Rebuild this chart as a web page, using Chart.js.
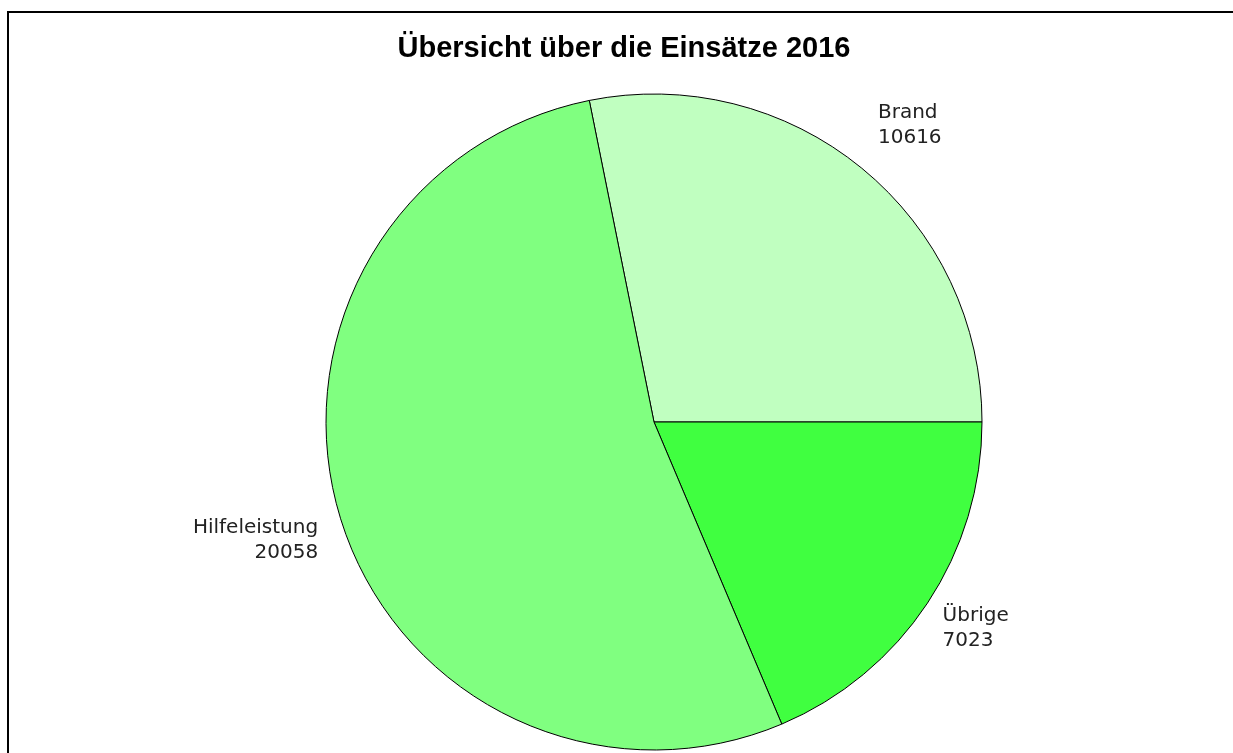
<!DOCTYPE html>
<html>
<head>
<meta charset="utf-8">
<script src="https://cdn.jsdelivr.net/npm/chart.js@4.4.1/dist/chart.umd.min.js"></script>
<style>
    html, body { margin: 0; padding: 0; background: #fff; }
    #wrap { position: relative; width: 1233px; height: 753px; overflow: hidden; }
    #frame { position: absolute; left: 7px; top: 11px; right: -10px; bottom: -10px;
             border-left: 2px solid #000; border-top: 2px solid #000; }
    #einsatzChart { position: absolute; left: 0; top: 0; }
</style>
</head>
<body>
<div id="wrap">
    <div id="frame"></div>
    <canvas id="einsatzChart" width="1233" height="753"></canvas>
</div>
<script>
const chartTitle = 'Übersicht über die Einsätze 2016';
const categories = ['Brand', 'Übrige', 'Hilfeleistung'];
const einsaetze = [10616, 7023, 20058];
const sliceColors = ['#C0FFC0', '#40FF40', '#80FF80'];
// nudges for the outside labels, relative to the point on the mid angle
const labelNudge = [[-6, -23], [-14, -2], [11, 4]];

document.addEventListener('DOMContentLoaded', function() {
    initPieChart();
});

function initPieChart() {
    const ctx = document.getElementById('einsatzChart');
    if (!ctx) return;

    const total = einsaetze.reduce((a, b) => a + b, 0);
    // Brand ends exactly at 3 o'clock
    const startRotation = 90 - 360 * einsaetze[0] / total;

    const titlePlugin = {
        id: 'sasTitle',
        afterDraw(chart) {
            const c = chart.ctx;
            c.save();
            c.font = 'bold 29px "Liberation Sans", Arial, sans-serif';
            c.fillStyle = '#000';
            c.textAlign = 'center';
            c.textBaseline = 'alphabetic';
            c.fillText(chartTitle, 624, 57);
            c.restore();
        }
    };

    const sliceLabels = {
        id: 'sliceLabels',
        afterDatasetsDraw(chart) {
            const c = chart.ctx;
            const meta = chart.getDatasetMeta(0);
            c.save();
            c.font = '20px "DejaVu Sans", sans-serif';
            c.fillStyle = '#222';
            c.textBaseline = 'alphabetic';
            meta.data.forEach((arc, i) => {
                const p = arc.getProps(['x', 'y', 'startAngle', 'endAngle', 'outerRadius'], true);
                const mid = (p.startAngle + p.endAngle) / 2;
                const dist = p.outerRadius + 35;
                const tx = p.x + Math.cos(mid) * dist + labelNudge[i][0];
                const ty = p.y + Math.sin(mid) * dist + labelNudge[i][1];
                c.textAlign = Math.cos(mid) >= 0 ? 'left' : 'right';
                c.fillText(categories[i], tx, ty);
                c.fillText(String(einsaetze[i]), tx, ty + 25);
            });
            c.restore();
        }
    };

    new Chart(ctx, {
        type: 'pie',
        data: {
            labels: categories,
            datasets: [{
                data: einsaetze,
                backgroundColor: sliceColors,
                borderColor: '#000',
                borderWidth: 1,
                borderAlign: 'center'
            }]
        },
        options: {
            responsive: false,
            animation: false,
            rotation: startRotation,
            layout: {
                padding: { left: 325.5, right: 250.5, top: 93.5, bottom: 2.5 }
            },
            plugins: {
                legend: { display: false },
                tooltip: { enabled: false },
                title: { display: false }
            }
        },
        plugins: [titlePlugin, sliceLabels]
    });
}
</script>
</body>
</html>
